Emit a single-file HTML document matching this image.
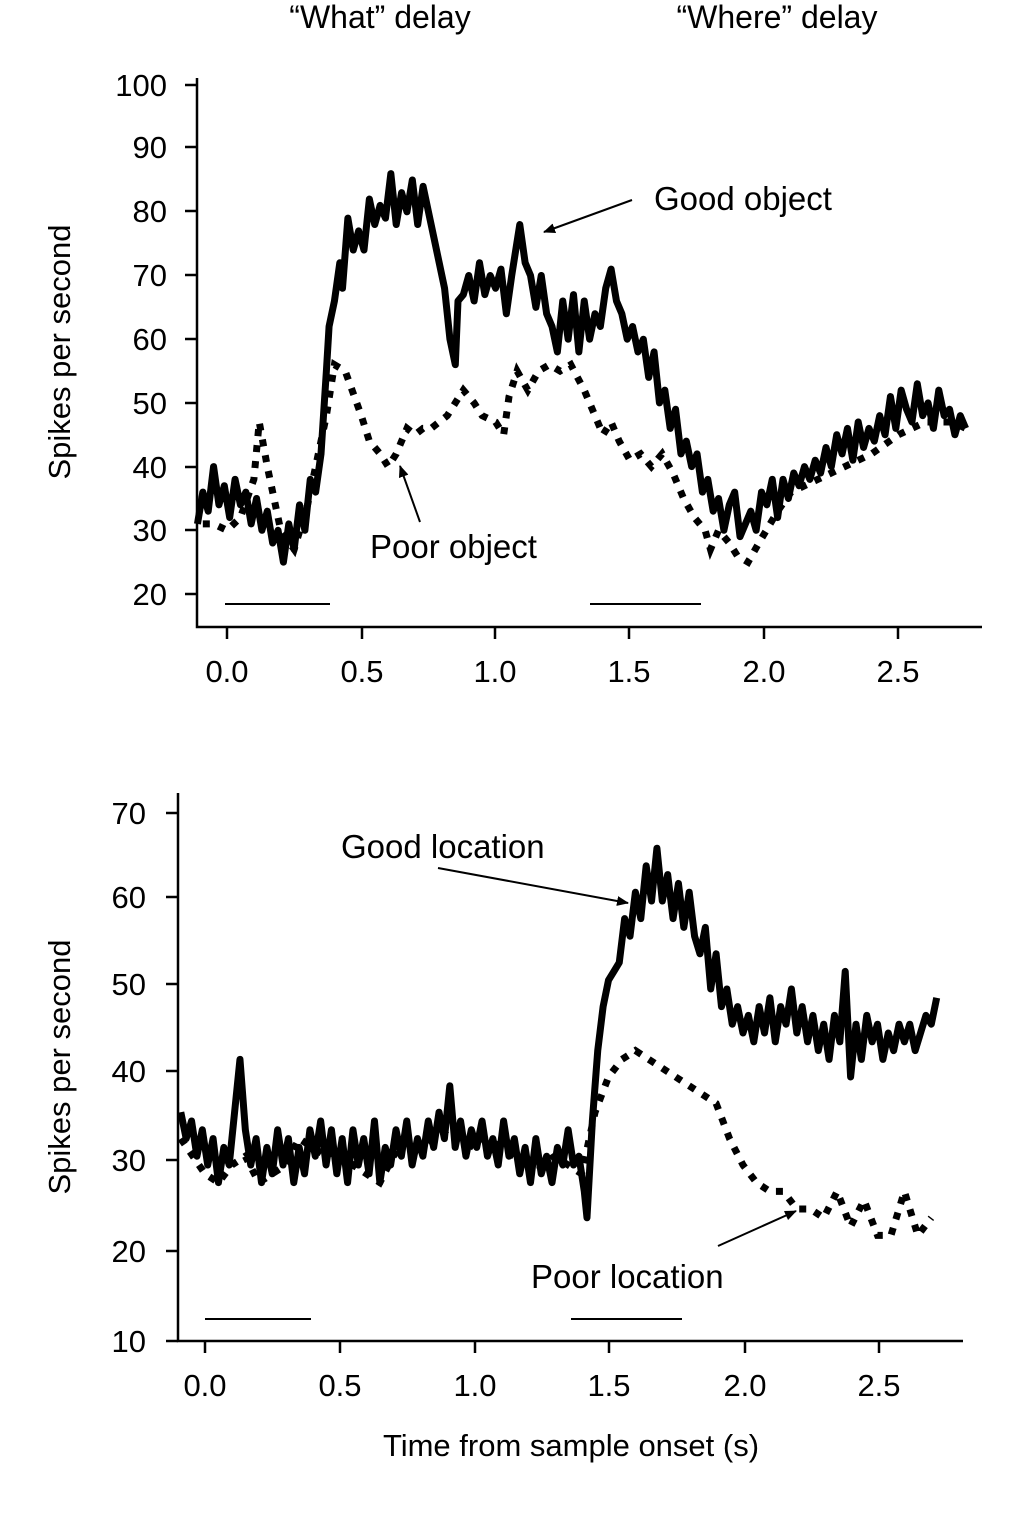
<!DOCTYPE html>
<html><head><meta charset="utf-8"><style>
html,body{margin:0;padding:0;background:#fff}
svg{display:block}
text{font-family:"Liberation Sans",Arial,sans-serif;fill:#000}
</style></head><body>
<svg width="1025" height="1516" viewBox="0 0 1025 1516" xmlns="http://www.w3.org/2000/svg">
<defs><marker id="ar" markerWidth="12" markerHeight="10" refX="11" refY="5" orient="auto" markerUnits="userSpaceOnUse"><path d="M0,0 L12,5 L0,10 z" fill="#000"/></marker></defs>
<text x="380" y="28" font-size="32" text-anchor="middle">“What” delay</text>
<text x="777" y="28" font-size="32" text-anchor="middle">“Where” delay</text>

<!-- TOP CHART -->
<g stroke="#000" stroke-width="2.5" fill="none">
<path d="M197,78 V627 H982"/>
<path d="M185,85H197 M185,147H197 M185,211H197 M185,275H197 M185,339H197 M185,403H197 M185,467H197 M185,530H197 M185,594H197"/>
<path d="M227,627V639 M362,627V639 M495,627V639 M629,627V639 M764,627V639 M898,627V639"/>
</g>
<g font-size="31" text-anchor="end">
<text x="167" y="96">100</text><text x="167" y="158">90</text><text x="167" y="222">80</text><text x="167" y="286">70</text><text x="167" y="350">60</text><text x="167" y="414">50</text><text x="167" y="478">40</text><text x="167" y="541">30</text><text x="167" y="605">20</text>
</g>
<g font-size="31" text-anchor="middle">
<text x="227" y="682">0.0</text><text x="362" y="682">0.5</text><text x="495" y="682">1.0</text><text x="629" y="682">1.5</text><text x="764" y="682">2.0</text><text x="898" y="682">2.5</text>
</g>
<text x="0" y="0" font-size="31" text-anchor="middle" transform="translate(70,352) rotate(-90)">Spikes per second</text>
<path d="M225,604H330 M590,604H701" stroke="#000" stroke-width="2"/>
<g transform="matrix(268.6,0,0,-6.37,227,721.4)" fill="none" stroke="#000">
<polyline vector-effect="non-scaling-stroke" stroke-width="7" stroke-linejoin="round" points="-0.11,31 -0.09,36 -0.07,33 -0.05,40 -0.03,34 -0.01,37 0.01,32 0.03,38 0.05,34 0.07,36 0.09,31 0.11,35 0.13,30 0.15,33 0.17,28 0.19,30 0.21,25 0.23,31 0.25,27 0.27,34 0.29,30 0.31,38 0.33,36 0.35,42 0.37,55 0.38,62 0.40,66 0.42,72 0.43,68 0.45,79 0.47,74 0.49,77 0.51,74 0.53,82 0.55,78 0.57,81 0.59,79 0.61,86 0.63,78 0.65,83 0.67,80 0.69,85 0.71,78 0.73,84 0.75,80 0.77,76 0.79,72 0.81,68 0.83,60 0.85,56 0.86,66 0.88,67 0.90,70 0.92,66 0.94,72 0.96,67 0.98,70 1.00,68 1.02,71 1.04,64 1.06,70 1.09,78 1.11,72 1.13,70 1.15,65 1.17,70 1.19,64 1.21,62 1.23,58 1.25,66 1.27,60 1.29,67 1.31,58 1.33,66 1.35,60 1.37,64 1.39,62 1.41,68 1.43,71 1.45,66 1.47,64 1.49,60 1.51,62 1.53,58 1.55,60 1.57,54 1.59,58 1.61,50 1.63,52 1.65,46 1.67,49 1.69,42 1.71,44 1.73,40 1.75,42 1.77,36 1.79,38 1.81,33 1.83,35 1.85,30 1.87,34 1.89,36 1.91,29 1.93,31 1.95,33 1.97,30 1.99,36 2.01,34 2.03,38 2.05,32 2.07,38 2.09,35 2.11,39 2.13,37 2.15,40 2.17,38 2.19,41 2.21,39 2.23,43 2.25,40 2.27,45 2.29,42 2.31,46 2.33,41 2.35,47 2.37,43 2.39,46 2.41,44 2.43,48 2.45,45 2.47,51 2.49,46 2.51,52 2.53,49 2.55,47 2.57,53 2.59,48 2.61,50 2.63,46 2.65,52 2.67,48 2.69,49 2.71,45 2.73,48 2.75,46"/>
<polyline vector-effect="non-scaling-stroke" stroke-width="7" stroke-dasharray="7 9" points="-0.09,31 -0.05,31 0.00,30 0.05,32 0.10,38 0.12,47 0.15,40 0.20,30 0.25,27 0.30,34 0.34,42 0.37,48 0.40,56 0.44,55 0.50,48 0.53,44 0.57,42 0.60,40 0.63,42 0.67,46 0.70,45 0.73,46 0.76,46 0.79,47 0.82,48 0.85,50 0.88,52 0.92,50 0.95,48 1.00,47 1.03,45 1.05,51 1.08,55 1.12,52 1.16,55 1.20,56 1.24,55 1.28,56 1.33,52 1.37,48 1.40,45 1.43,47 1.46,44 1.50,41 1.54,42 1.58,40 1.62,42 1.66,39 1.70,35 1.74,32 1.78,30 1.80,27 1.83,30 1.87,28 1.90,26 1.94,25 1.98,28 2.05,33 2.10,36 2.20,38 2.30,40 2.40,42 2.50,45 2.60,47 2.70,47 2.75,46"/>
</g>
<text x="654" y="210" font-size="33">Good object</text>
<line x1="632" y1="200" x2="544" y2="232" stroke="#000" stroke-width="2" marker-end="url(#ar)"/>
<text x="370" y="558" font-size="33">Poor object</text>
<line x1="420" y1="522" x2="400" y2="466" stroke="#000" stroke-width="2" marker-end="url(#ar)"/>

<!-- BOTTOM CHART -->
<g stroke="#000" stroke-width="2.5" fill="none">
<path d="M178,793 V1341 H963"/>
<path d="M166,813H178 M166,897H178 M166,984H178 M166,1071H178 M166,1160H178 M166,1251H178 M166,1341H178"/>
<path d="M205,1341V1353 M340,1341V1353 M475,1341V1353 M609,1341V1353 M745,1341V1353 M879,1341V1353"/>
</g>
<g font-size="31" text-anchor="end">
<text x="146" y="824">70</text><text x="146" y="908">60</text><text x="146" y="995">50</text><text x="146" y="1082">40</text><text x="146" y="1171">30</text><text x="146" y="1262">20</text><text x="146" y="1352">10</text>
</g>
<g font-size="31" text-anchor="middle">
<text x="205" y="1396">0.0</text><text x="340" y="1396">0.5</text><text x="475" y="1396">1.0</text><text x="609" y="1396">1.5</text><text x="745" y="1396">2.0</text><text x="879" y="1396">2.5</text>
</g>
<text x="0" y="0" font-size="31" text-anchor="middle" transform="translate(70,1067) rotate(-90)">Spikes per second</text>
<text x="571" y="1456" font-size="31" text-anchor="middle">Time from sample onset (s)</text>
<path d="M205,1319H311 M571,1319H682" stroke="#000" stroke-width="2"/>
<g transform="matrix(269,0,0,-8.8,205,1429)" fill="none" stroke="#000">
<polyline vector-effect="non-scaling-stroke" stroke-width="7" stroke-linejoin="round" points="-0.09,36 -0.07,33 -0.05,35 -0.03,31 -0.01,34 0.01,30 0.03,33 0.05,28 0.07,32 0.09,30 0.11,36 0.13,42 0.15,34 0.17,30 0.19,33 0.21,28 0.23,32 0.25,29 0.27,34 0.29,30 0.31,33 0.33,28 0.35,32 0.37,29 0.39,34 0.41,31 0.43,35 0.45,30 0.47,34 0.49,29 0.51,33 0.53,28 0.55,34 0.57,30 0.59,33 0.61,29 0.63,35 0.65,28 0.67,32 0.69,30 0.71,34 0.73,31 0.75,35 0.77,30 0.79,33 0.81,31 0.83,35 0.85,32 0.87,36 0.89,33 0.91,39 0.93,32 0.95,35 0.97,31 0.99,34 1.01,32 1.03,35 1.05,31 1.07,33 1.09,30 1.11,35 1.13,31 1.15,33 1.17,29 1.19,32 1.21,28 1.23,33 1.25,29 1.27,31 1.29,28 1.31,32 1.33,30 1.35,34 1.37,30 1.39,31 1.41,27 1.42,24 1.44,35 1.46,43 1.48,48 1.50,51 1.52,52 1.54,53 1.56,58 1.58,56 1.60,61 1.62,58 1.64,64 1.66,60 1.68,66 1.70,60 1.72,63 1.74,58 1.76,62 1.78,57 1.80,61 1.82,56 1.84,54 1.86,57 1.88,50 1.90,54 1.92,48 1.94,50 1.96,46 1.98,48 2.00,45 2.02,47 2.04,44 2.06,48 2.08,45 2.10,49 2.12,44 2.14,48 2.16,46 2.18,50 2.20,45 2.22,48 2.24,44 2.26,47 2.28,43 2.30,46 2.32,42 2.34,47 2.36,44 2.38,52 2.40,40 2.42,46 2.44,42 2.46,47 2.48,44 2.50,46 2.52,42 2.54,45 2.56,43 2.58,46 2.60,44 2.62,46 2.64,43 2.66,45 2.68,47 2.70,46 2.72,49"/>
<polyline vector-effect="non-scaling-stroke" stroke-width="7" stroke-dasharray="7 9" points="-0.09,33 0.00,29 0.05,28 0.10,30 0.15,31 0.20,28 0.25,29 0.30,30 0.35,33 0.40,32 0.45,31 0.50,32 0.55,30 0.60,29 0.65,28 0.70,31 0.75,33 0.80,32 0.85,33 0.90,34 0.95,33 1.00,32 1.05,33 1.10,32 1.15,31 1.20,30 1.25,30 1.30,31 1.35,30 1.40,29 1.45,36 1.50,40 1.55,42 1.60,43 1.65,42 1.70,41 1.75,40 1.80,39 1.85,38 1.90,37 1.95,33 2.00,30 2.05,28 2.10,27 2.15,27 2.20,25 2.25,25 2.30,24 2.35,27 2.40,23 2.45,26 2.50,22 2.55,22 2.60,27 2.65,22 2.70,24"/>
</g>
<text x="341" y="858" font-size="33">Good location</text>
<line x1="438" y1="868" x2="628" y2="903" stroke="#000" stroke-width="2" marker-end="url(#ar)"/>
<text x="531" y="1288" font-size="33">Poor location</text>
<line x1="718" y1="1246" x2="796" y2="1211" stroke="#000" stroke-width="2" marker-end="url(#ar)"/>
</svg>
</body></html>
